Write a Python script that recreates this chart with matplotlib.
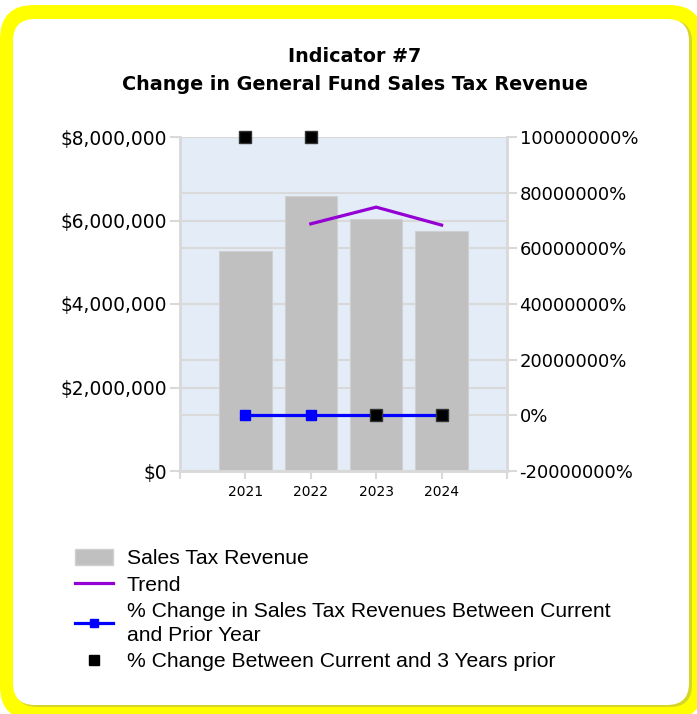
import numpy as np
import matplotlib
matplotlib.use("Agg")
import matplotlib.pyplot as plt
from matplotlib.patches import FancyBboxPatch, Patch
from matplotlib.lines import Line2D
from matplotlib.ticker import FuncFormatter

# data
years = ["2021", "2022", "2023", "2024"]
revenue = [5270000, 6580000, 6040000, 5750000]
trend = [np.nan, 5920000, 6320000, 5890000]
pct_prior_year = [0, 0, 0, 0]
pct_3_years = [100000000, 100000000, 0, 0]

left_ticks = [0, 2000000, 4000000, 6000000, 8000000]
right_ticks = [-20000000, 0, 20000000, 40000000, 60000000, 80000000, 100000000]

W, H = 697, 714
fig = plt.figure(figsize=(W / 100, H / 100), dpi=100)
fig.patch.set_facecolor("white")

# yellow rounded frame, pixel coords (y from bottom)
outer = FancyBboxPatch((0, -6), 703, H - 5 + 6, boxstyle="round,pad=0,rounding_size=34",
                       transform=None, facecolor="#FFFF00", edgecolor="none", zorder=-10)
shadow = FancyBboxPatch((15, H - 707), 677, 687, boxstyle="round,pad=0,rounding_size=22",
                        transform=None, facecolor="#D6D62A", edgecolor="none", zorder=-9)
inner = FancyBboxPatch((13, H - 705), 676, 686, boxstyle="round,pad=0,rounding_size=22",
                       transform=None, facecolor="white", edgecolor="none", zorder=-8)
for p in (outer, shadow, inner):
    fig.patches.append(p)

fig.text(355 / W, 1 - 57 / H, "Indicator #7", ha="center", va="center",
         fontsize=13.8, fontweight="bold", color="black")
fig.text(355 / W, 1 - 84 / H, "Change in General Fund Sales Tax Revenue", ha="center",
         va="center", fontsize=13.8, fontweight="bold", color="black")

x0, x1 = 180, 507
y0, y1 = 137, 471
ax = fig.add_axes([x0 / W, 1 - y1 / H, (x1 - x0) / W, (y1 - y0) / H])
ax.set_facecolor("#E4ECF8")
x = np.arange(len(years))

grid_c = "#D9D9D9"
ax.bar(x, revenue, width=0.8, color="#C0C0C0", edgecolor="#D0D0D0", linewidth=0.8, zorder=2)
ax.plot(x, trend, color="#9400D3", linewidth=2.3, zorder=3)

ax.set_xlim(-1, 4)
ax.set_ylim(left_ticks[0], left_ticks[-1])
ax.set_yticks(left_ticks)
ax.yaxis.set_major_formatter(FuncFormatter(lambda v, p: "${:,.0f}".format(v)))
ax.set_xticks(np.arange(-1, 5))
ax.set_xticklabels([""] + years + [""])

ax2 = ax.twinx()
ax2.set_ylim(right_ticks[0], right_ticks[-1])
ax2.set_yticks(right_ticks)
ax2.yaxis.set_major_formatter(FuncFormatter(lambda v, p: "{:.0f}%".format(v)))

# right-axis gridlines drawn behind the bars, converted into left-axis units
l0, l1 = ax.get_ylim()
r0, r1 = ax2.get_ylim()
conv = [(v - r0) / (r1 - r0) * (l1 - l0) + l0 for v in right_ticks]
for g in left_ticks + conv:
    ax.axhline(g, color=grid_c, linewidth=1.5, zorder=1)

ax2.plot(x, pct_prior_year, color="#0000FF", linewidth=2.3, marker="s", markersize=7.5,
         markerfacecolor="#0000FF", markeredgecolor="#0000FF", zorder=4)
ax2.plot(x, pct_3_years, linestyle="none", marker="s", markersize=8,
         markerfacecolor="black", markeredgecolor="#333333", zorder=5, clip_on=False)

for a in (ax, ax2):
    for s in a.spines.values():
        s.set_color(grid_c)
        s.set_linewidth(1.8)
    a.spines["top"].set_visible(False)
    a.tick_params(colors=grid_c, width=1.5, length=7, labelcolor="black")
ax.tick_params(axis="y", labelsize=13.4, pad=2)
ax.tick_params(axis="x", labelsize=10, length=6, pad=4)
ax2.tick_params(axis="y", labelsize=13, pad=2)

handles = [
    Patch(facecolor="#C0C0C0", edgecolor="#D0D0D0"),
    Line2D([], [], color="#9400D3", linewidth=2.3),
    Line2D([], [], color="#0000FF", linewidth=2.3, marker="s", markersize=6),
    Line2D([], [], linestyle="none", color="black", marker="s", markersize=7),
]
labels = [
    "Sales Tax Revenue",
    "Trend",
    "% Change in Sales Tax Revenues Between Current\nand Prior Year",
    "% Change Between Current and 3 Years prior",
]
leg = fig.legend(handles, labels, loc="upper left", bbox_to_anchor=(75 / W, 1 - 549 / H),
                 frameon=False, prop={"family": "Liberation Sans", "size": 15.2},
                 handlelength=1.8, handleheight=0.8, handletextpad=0.65,
                 labelspacing=0.33, borderaxespad=0, borderpad=0)
for t in leg.get_texts():
    t.set_linespacing(1.35)

fig.savefig("out.png", dpi=100)
